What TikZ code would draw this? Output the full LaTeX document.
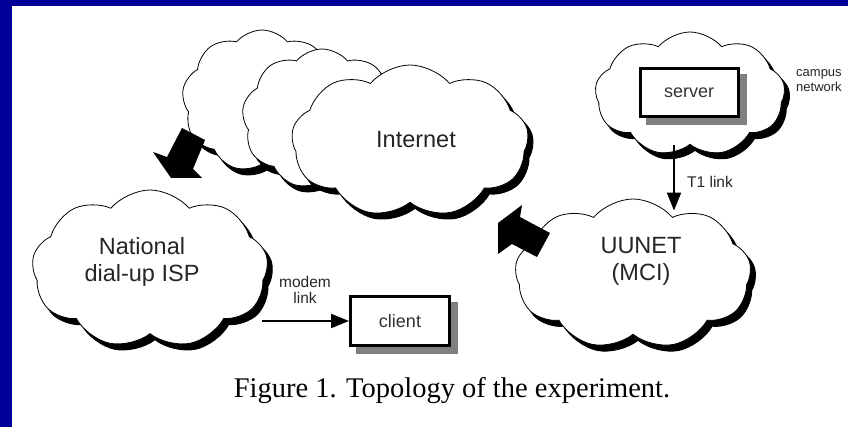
\documentclass[tikz,border=0pt]{standalone}
\usepackage{fontspec}
\setmainfont{Liberation Serif}
\setsansfont{Liberation Sans}
\usetikzlibrary{shapes.symbols,shadows,arrows.meta,calc}
\definecolor{bg}{RGB}{0,0,153}
\definecolor{shadowgray}{RGB}{128,128,128}
\begin{document}
\begin{tikzpicture}[x=1pt,y=-1pt,
  cloudnode/.style={cloud, cloud puffs=9, cloud puff arc=100, draw=black, line width=0.8pt,
    fill=white, inner sep=0pt,
    general shadow={fill=black, draw=black, line width=1pt, shadow xshift=5pt, shadow yshift=-6pt}},
  boxnode/.style={draw=black, line width=3pt, fill=white, inner sep=0pt,
    font=\sffamily\fontsize{18}{20}\selectfont, text=black!80,
    general shadow={fill=shadowgray, draw=shadowgray, line width=3pt, shadow xshift=7pt, shadow yshift=-7pt}},
  bigtext/.style={font=\sffamily\fontsize{23.5}{27}\selectfont, text=black!85, align=center, inner sep=0pt},
  smalltext/.style={font=\sffamily\fontsize{15.5}{16}\selectfont, text=black!85, align=center, inner sep=0pt},
  tinytext/.style={font=\sffamily\fontsize{13}{15}\selectfont, text=black!85, align=left, inner sep=0pt},
  blockarrow/.style={fill=black},
  link/.style={line width=2pt, -{Triangle[length=18pt,width=14pt]}},
]
\useasboundingbox (0,0) rectangle (848,427);
\fill[bg] (0,0) rectangle (848,427);
\fill[white] (12,6) rectangle (848,427);

% back clouds
\node[cloudnode, minimum width=160pt, minimum height=142pt] (cloudA) at (262,101) {};
\node[cloudnode, minimum width=160pt, minimum height=140pt] (cloudB) at (322,119) {};
% Internet
\node[cloudnode, minimum width=237pt, minimum height=152pt] (inet) at (410,141) {};
\node[bigtext] (inettext) at (416,140) {Internet};

% campus cloud
\node[cloudnode, minimum width=190pt, minimum height=124pt] (campus) at (690,94) {};
\node[boxnode, minimum width=98pt, minimum height=48pt] (server) at (689,93) {server};
\node[tinytext, anchor=west] (campustext) at (796,81) {campus\\network};

% UUNET cloud
\node[cloudnode, minimum width=236pt, minimum height=150pt] (uunet) at (633,274) {};
\node[bigtext] (uunettext) at (641,261) {UUNET\\(MCI)};

% National ISP cloud
\node[cloudnode, minimum width=236pt, minimum height=158pt] (isp) at (150,269) {};
\node[bigtext] (isptext) at (142,262) {National\\dial-up ISP};

% client
\node[boxnode, minimum width=99pt, minimum height=48pt] (client) at (400,321) {client};

% links
\draw[link] ([xshift=-16pt]campus.south) -- ([xshift=-16pt,yshift=-12pt]campus.south |- uunet.north);
\node[smalltext, anchor=west] (t1text) at (687,182) {T1 link};
\draw[link] ([xshift=-6pt]client.west -| isp.east) -- (client.west);
\node[smalltext] (modemtext) at (305,290) {modem\\link};

% block arrows
\fill[blockarrow] (182,128) -- (205,140) -- (193,169) -- (202,178) -- (171,178) -- (153,152) -- (167,157) -- cycle;
\fill[blockarrow] (522,205) -- (520,217) -- (550,233) -- (537,257) -- (512,244) -- (498,254) -- (498,223) -- cycle;

% caption
\node[font=\fontsize{28.5}{32}\selectfont, inner sep=0pt] (caption) at (452,391) {Figure 1. Topology of the experiment.};
\end{tikzpicture}
\end{document}
